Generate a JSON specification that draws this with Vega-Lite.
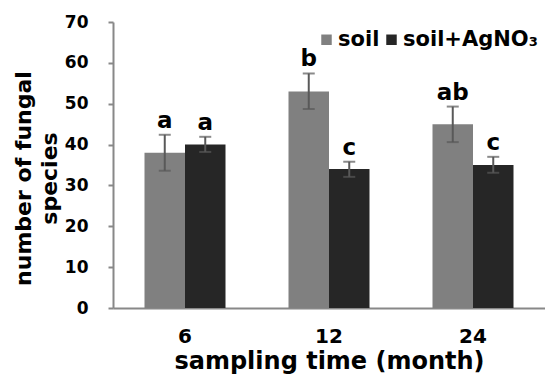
{
  "$schema": "https://vega.github.io/schema/vega-lite/v6.json",
  "autosize": {"type": "none"},
  "width": 432,
  "height": 286,
  "padding": {"left": 113, "top": 22, "right": 0, "bottom": 68},
  "background": "white",
  "config": {"view": {"stroke": null}, "font": "DejaVu Sans"},
  "data": {
    "values": [
      {"month": "6", "treatment": "soil", "mean": 38, "lo": 33.6, "hi": 42.4, "letter": "a"},
      {"month": "6", "treatment": "soil+AgNO₃", "mean": 40, "lo": 38.2, "hi": 41.9, "letter": "a"},
      {"month": "12", "treatment": "soil", "mean": 53, "lo": 48.7, "hi": 57.4, "letter": "b"},
      {"month": "12", "treatment": "soil+AgNO₃", "mean": 34, "lo": 32.1, "hi": 35.8, "letter": "c"},
      {"month": "24", "treatment": "soil", "mean": 45, "lo": 40.6, "hi": 49.3, "letter": "ab"},
      {"month": "24", "treatment": "soil+AgNO₃", "mean": 35, "lo": 33.1, "hi": 37.0, "letter": "c"}
    ]
  },
  "encoding": {
    "x": {
      "field": "month", "type": "nominal", "sort": ["6", "12", "24"],
      "scale": {"paddingInner": 0.4375, "paddingOuter": 0.21875},
      "axis": {
        "title": "sampling time (month)", "labelAngle": 0, "ticks": false,
        "domainColor": "#888888", "domainWidth": 2,
        "labelFontSize": 20, "labelFontWeight": "bold", "labelColor": "black", "labelPadding": 18,
        "titleFontSize": 24, "titleFontWeight": "bold", "titleColor": "black",
        "titleY": 60, "titleBaseline": "alphabetic"
      }
    },
    "xOffset": {"field": "treatment", "type": "nominal", "sort": ["soil", "soil+AgNO₃"]}
  },
  "layer": [
    {
      "mark": {"type": "bar"},
      "encoding": {
        "y": {
          "field": "mean", "type": "quantitative", "title": ["number of fungal", "species"],
          "scale": {"domain": [0, 70]},
          "axis": {
            "values": [0, 10, 20, 30, 40, 50, 60, 70], "grid": false,
            "domainColor": "#888888", "domainWidth": 2, "tickColor": "#888888", "tickWidth": 2, "tickSize": 5,
            "labelFontSize": 17, "labelFontWeight": "bold", "labelColor": "black", "labelPadding": 20,
            "titleFontSize": 22, "titleFontWeight": "bold", "titleColor": "black",
            "titleAngle": -90, "titleX": -100, "titleY": 156, "titleBaseline": "top", "titleAlign": "center",
            "titleLineHeight": 26
          }
        },
        "color": {
          "field": "treatment", "type": "nominal",
          "scale": {"domain": ["soil", "soil+AgNO₃"], "range": ["#808080", "#262626"]},
          "legend": {
            "orient": "none", "legendX": 203, "legendY": 7, "direction": "horizontal", "title": null,
            "symbolType": "square", "symbolSize": 110, "symbolStrokeWidth": 0, "symbolOpacity": 1,
            "labelFontSize": 21, "labelFontWeight": "bold", "labelColor": "black", "labelLimit": 300,
            "labelOffset": 1, "columnPadding": 1, "padding": 0
          }
        }
      }
    },
    {
      "mark": {"type": "rule", "color": "#595959", "strokeWidth": 2},
      "encoding": {
        "y": {"field": "lo", "type": "quantitative", "title": ["number of fungal", "species"]},
        "y2": {"field": "hi"}
      }
    },
    {
      "mark": {"type": "tick", "color": "#595959", "thickness": 2, "size": 12},
      "encoding": {"y": {"field": "lo", "type": "quantitative", "title": ["number of fungal", "species"]}}
    },
    {
      "mark": {"type": "tick", "color": "#595959", "thickness": 2, "size": 12},
      "encoding": {"y": {"field": "hi", "type": "quantitative", "title": ["number of fungal", "species"]}}
    },
    {
      "mark": {"type": "text", "dy": -7, "baseline": "alphabetic", "fontSize": 23, "fontWeight": "bold", "color": "black"},
      "encoding": {
        "y": {"field": "hi", "type": "quantitative", "title": ["number of fungal", "species"]},
        "text": {"field": "letter"}
      }
    }
  ]
}
